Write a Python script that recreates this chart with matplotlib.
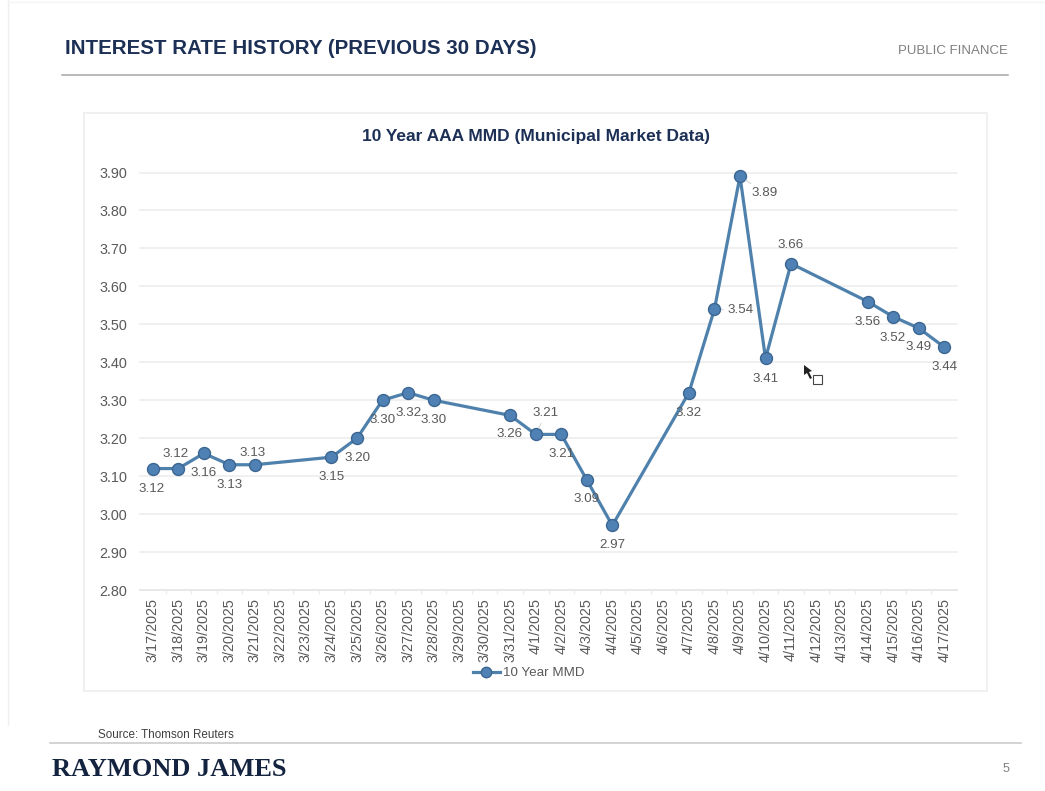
import numpy as np
import matplotlib
matplotlib.use("Agg")
import matplotlib.pyplot as plt
from matplotlib.patches import Rectangle, Polygon
from matplotlib.lines import Line2D

W, H = 1045, 791
plt.rcParams['font.family'] = ['Liberation Sans', 'DejaVu Sans']

dates = ['3/17/2025', '3/18/2025', '3/19/2025', '3/20/2025', '3/21/2025', '3/22/2025', '3/23/2025', '3/24/2025',
         '3/25/2025', '3/26/2025', '3/27/2025', '3/28/2025', '3/29/2025', '3/30/2025', '3/31/2025', '4/1/2025',
         '4/2/2025', '4/3/2025', '4/4/2025', '4/5/2025', '4/6/2025', '4/7/2025', '4/8/2025', '4/9/2025',
         '4/10/2025', '4/11/2025', '4/12/2025', '4/13/2025', '4/14/2025', '4/15/2025', '4/16/2025', '4/17/2025']
rates = [3.12, 3.12, 3.16, 3.13, 3.13, None, None, 3.15,
         3.20, 3.30, 3.32, 3.30, None, None, 3.26, 3.21,
         3.21, 3.09, 2.97, None, None, 3.32, 3.54, 3.89,
         3.41, 3.66, None, None, 3.56, 3.52, 3.49, 3.44]
y_ticks = [2.8, 2.9, 3.0, 3.1, 3.2, 3.3, 3.4, 3.5, 3.6, 3.7, 3.8, 3.9]

# label offsets in pixels (dx, dy downwards), one per plotted point
label_offsets = [(-1, 20), (-3, -15), (0, 20), (0, 20), (-2, -12), (0, 20), (0, 20), (0, 20), (0, 20), (0, 20),
                 (-1, 19), (10, -21), (0, 20), (0, 19), (0, 20), (0, 20), (26, 1), (25, 17), (0, 21), (0, -19),
                 (0, 20), (-1, 21), (0, 19), (0, 20)]

NAVY = '#1c2f55'
LOGO = '#14233f'
GREY = '#595959'
BLUE = '#4f81ad'
EDGE = '#3b6691'
PT = 72 / 100


def fx(x):
    return x / W


def fy(y):
    return 1 - y / H


fig = plt.figure(figsize=(W / 100, H / 100), dpi=100, facecolor='white')

# slide furniture
fig.add_artist(Line2D([fx(8), fx(8)], [fy(0), fy(725)], color='#efefef', lw=1, zorder=-2))
fig.add_artist(Line2D([fx(8), fx(1045)], [fy(2), fy(2)], color='#f4f4f4', lw=1, zorder=-2))
fig.add_artist(Line2D([fx(62), fx(1008)], [fy(74.5), fy(74.5)], color='#a6a6a6', lw=1.1, zorder=-2))
fig.add_artist(Line2D([fx(50), fx(1021)], [fy(742.5), fy(742.5)], color='#c8c8c8', lw=1.1, zorder=-2))
fig.add_artist(Rectangle((fx(84), fy(691)), fx(903), 578 / H, transform=fig.transFigure,
                         facecolor='white', edgecolor='#ececec', lw=1.1, zorder=-1))

fig.text(fx(65), fy(48), 'INTEREST RATE HISTORY (PREVIOUS 30 DAYS)', color=NAVY, fontsize=14.8,
         fontweight='bold', va='center', ha='left')
fig.text(fx(1008), fy(50.5), 'PUBLIC FINANCE', color='#7f7f7f', fontsize=9.5, va='center', ha='right')
fig.text(fx(536), fy(136), '10 Year AAA MMD (Municipal Market Data)', color=NAVY, fontsize=12.5,
         fontweight='bold', va='center', ha='center')
fig.text(fx(98), fy(735), 'Source: Thomson Reuters', color='#404040', fontsize=8.4, va='center', ha='left')
fig.text(fx(52), fy(770), 'RAYMOND JAMES', color=LOGO, fontsize=19, fontweight='bold',
         family=['Liberation Serif', 'DejaVu Serif'], va='center', ha='left')
fig.text(fx(1006), fy(769), '5', color='#7f7f7f', fontsize=9, va='center', ha='center')

ax = fig.add_axes([fx(140), fy(590), (957 - 140) / W, (590 - 172.5) / H])
ax.set_facecolor('none')
idx = np.arange(len(dates))
vals = np.array([np.nan if v is None else v for v in rates], dtype=float)
mask = ~np.isnan(vals)
x = idx[mask]
y = vals[mask]

ax.plot(x, y, color=BLUE, lw=2.3, marker='o', ms=8.6, mfc='#4f81b5', mec=EDGE, mew=1.0,
        label='10 Year MMD', zorder=3, clip_on=False)

ax.set_xlim(-0.5, len(dates) - 0.5)
ax.set_ylim(2.8, 3.9)
ax.set_yticks(y_ticks)
ax.set_yticklabels([f'{v:.2f}' for v in y_ticks], color=GREY, fontsize=10.4)
ax.set_xticks(idx)
ax.set_xticklabels(dates, rotation=90, color=GREY, fontsize=10.4)
ax.set_xticks(idx[:-1] + 0.5, minor=True)
ax.tick_params(axis='y', length=0, pad=9)
ax.tick_params(axis='x', which='major', length=0, pad=6)
ax.tick_params(axis='x', which='minor', length=3, color='#ececec', width=1)
ax.grid(axis='y', color='#ececec', lw=1.1, clip_on=False)
ax.set_axisbelow(True)
for s in ['top', 'right', 'left']:
    ax.spines[s].set_visible(False)
ax.spines['bottom'].set_color('#e6e6e6')
ax.spines['bottom'].set_linewidth(1.1)

for xi, yi, (dx, dy) in zip(x, y, label_offsets):
    ax.annotate(f'{yi:.2f}', (xi, yi), xytext=(dx * PT, -dy * PT), textcoords='offset points',
                ha='center', va='center', fontsize=9.6, color=GREY, zorder=4,
                arrowprops=dict(arrowstyle='-', color='#d0d0d0', lw=0.7, shrinkA=1, shrinkB=5)
                if abs(dx) >= 10 else None)

leg = ax.legend(loc='center', bbox_to_anchor=(fx(528.5), fy(673)), bbox_transform=fig.transFigure,
                frameon=False, fontsize=9.6, handlelength=2.05, handletextpad=0.2, borderpad=0, labelcolor=GREY)
leg.get_lines()[0].set_markersize(7.5)

# mouse pointer captured in the screenshot
fig.add_artist(Polygon([(fx(804), fy(365)), (fx(804), fy(375)), (fx(807), fy(373)), (fx(810), fy(379)),
                        (fx(812), fy(378)), (fx(809), fy(372)), (fx(812), fy(371))],
                       closed=True, transform=fig.transFigure, facecolor='#222222', edgecolor='none'))
fig.add_artist(Rectangle((fx(813), fy(384)), 9 / W, 9 / H, transform=fig.transFigure,
                         facecolor='white', edgecolor='#444444', lw=0.8))

fig.savefig('out.png', dpi=100, facecolor='white')
